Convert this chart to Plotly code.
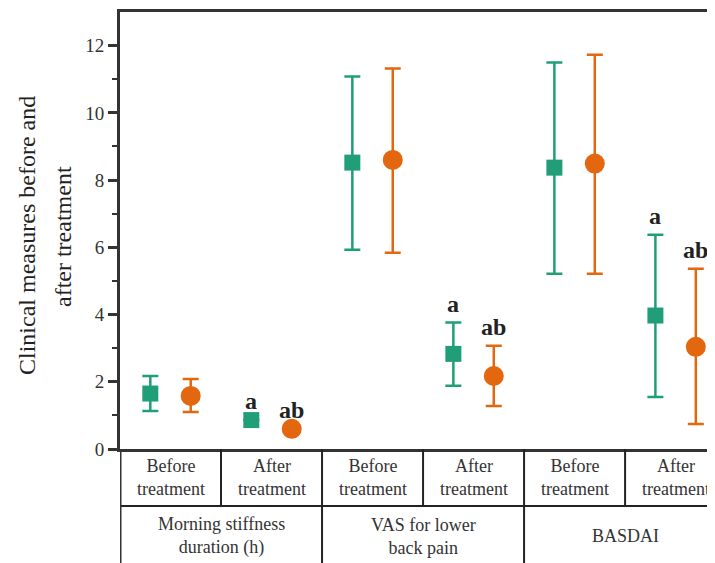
import plotly.graph_objects as go

# ---- data ----
sub_labels = ["Before<br>treatment", "After<br>treatment"] * 3
group_labels = ["Morning stiffness<br>duration (h)", "VAS for lower<br>back pain", "BASDAI"]
y_title_lines = ["Clinical measures before and", "after treatment"]

green_mean = [1.65, 0.86, 8.52, 2.83, 8.37, 3.97]
green_hi = [2.17, 0.86, 11.08, 3.76, 11.5, 6.37]
green_lo = [1.13, 0.86, 5.93, 1.88, 5.21, 1.55]

orange_mean = [1.58, 0.60, 8.60, 2.17, 8.49, 3.04]
orange_hi = [2.08, 0.60, 11.32, 3.07, 11.73, 5.36]
orange_lo = [1.10, 0.60, 5.84, 1.28, 5.21, 0.74]

green_sig = ["", "a", "", "a", "", "a"]
orange_sig = ["", "ab", "", "ab", "", "ab"]

GREEN = "#1f9e78"
ORANGE = "#e2670f"
FONT = "Liberation Serif"

n = len(sub_labels)
xg = [i + 0.3 for i in range(n)]
xo = [i + 0.7 for i in range(n)]

fig = go.Figure()
fig.add_trace(go.Scatter(
    x=xg, y=green_mean, mode="markers",
    marker=dict(symbol="square", size=16, color=GREEN),
    error_y=dict(type="data", symmetric=False,
                 array=[h - m for h, m in zip(green_hi, green_mean)],
                 arrayminus=[m - l for l, m in zip(green_lo, green_mean)],
                 color=GREEN, thickness=2.5, width=8),
    showlegend=False))
fig.add_trace(go.Scatter(
    x=xo, y=orange_mean, mode="markers",
    marker=dict(symbol="circle", size=20, color=ORANGE),
    error_y=dict(type="data", symmetric=False,
                 array=[h - m for h, m in zip(orange_hi, orange_mean)],
                 arrayminus=[m - l for l, m in zip(orange_lo, orange_mean)],
                 color=ORANGE, thickness=2.5, width=8),
    showlegend=False))

# significance letters
for i in range(n):
    if green_sig[i]:
        fig.add_annotation(x=xg[i], y=green_hi[i], yshift=4, text="<b>" + green_sig[i] + "</b>",
                           showarrow=False, yanchor="bottom",
                           font=dict(family=FONT, size=24, color="#222"))
    if orange_sig[i]:
        fig.add_annotation(x=xo[i], y=orange_hi[i], yshift=4, text="<b>" + orange_sig[i] + "</b>",
                           showarrow=False, yanchor="bottom",
                           font=dict(family=FONT, size=24, color="#222"))

# table below axis (positions in reference pixels; plot spans 12..449)
plot_top, plot_bot = 12, 449
ph = plot_bot - plot_top
def py(pix):
    return (plot_bot - pix) / ph

row_mid = py(506)
row_bot = py(575)
line = dict(color="#222", width=2)
fig.add_shape(type="line", xref="x", yref="paper", x0=0, x1=6, y0=row_mid, y1=row_mid, line=line)
fig.add_shape(type="line", xref="x", yref="paper", x0=0, x1=0, y0=0, y1=row_bot, line=dict(color="#333", width=3))
for b in range(1, n):
    fig.add_shape(type="line", xref="x", yref="paper", x0=b, x1=b, y0=0, y1=row_mid, line=line)
for b in (2, 4):
    fig.add_shape(type="line", xref="x", yref="paper", x0=b, x1=b, y0=row_mid, y1=row_bot, line=line)

for i, lab in enumerate(sub_labels):
    fig.add_annotation(x=i + 0.5, xref="x", y=py(478), yref="paper", text=lab,
                       showarrow=False, xanchor="center", yanchor="middle",
                       font=dict(family=FONT, size=18, color="#333"))
for g, lab in enumerate(group_labels):
    fig.add_annotation(x=2 * g + 1, xref="x", y=py(536), yref="paper", text=lab,
                       showarrow=False, xanchor="center", yanchor="middle",
                       font=dict(family=FONT, size=18, color="#333"))

# y title as two rotated lines
for k, (txt, xp) in enumerate(zip(y_title_lines, [27, 63])):
    fig.add_annotation(x=(xp - 120) / 595, xref="paper", y=py(236), yref="paper",
                       text=txt, textangle=-90, showarrow=False,
                       xanchor="center", yanchor="middle",
                       font=dict(family=FONT, size=24, color="#222"))

fig.update_layout(
    width=707, height=555,
    margin=dict(l=112, r=0, t=4, b=114, autoexpand=False),
    plot_bgcolor="white", paper_bgcolor="white",
    font=dict(family=FONT, color="#333"),
    xaxis=dict(range=[0, 5.89], showticklabels=False, ticks="", showgrid=False,
               zeroline=False, showline=True, mirror=True, linecolor="#333", linewidth=3,
               automargin=False),
    yaxis=dict(range=[0, 13], tickvals=[0, 2, 4, 6, 8, 10, 12], ticks="outside",
               ticklen=9, tickwidth=2.5, tickcolor="#333", showgrid=False, zeroline=False,
               showline=True, linecolor="#333", linewidth=3, automargin=False,
               tickfont=dict(family=FONT, size=19, color="#333"),
               minor=dict(tickvals=[1, 3, 5, 7, 9, 11], ticks="outside", ticklen=5,
                          tickwidth=2, tickcolor="#333")),
)

fig.write_html("out.html")
